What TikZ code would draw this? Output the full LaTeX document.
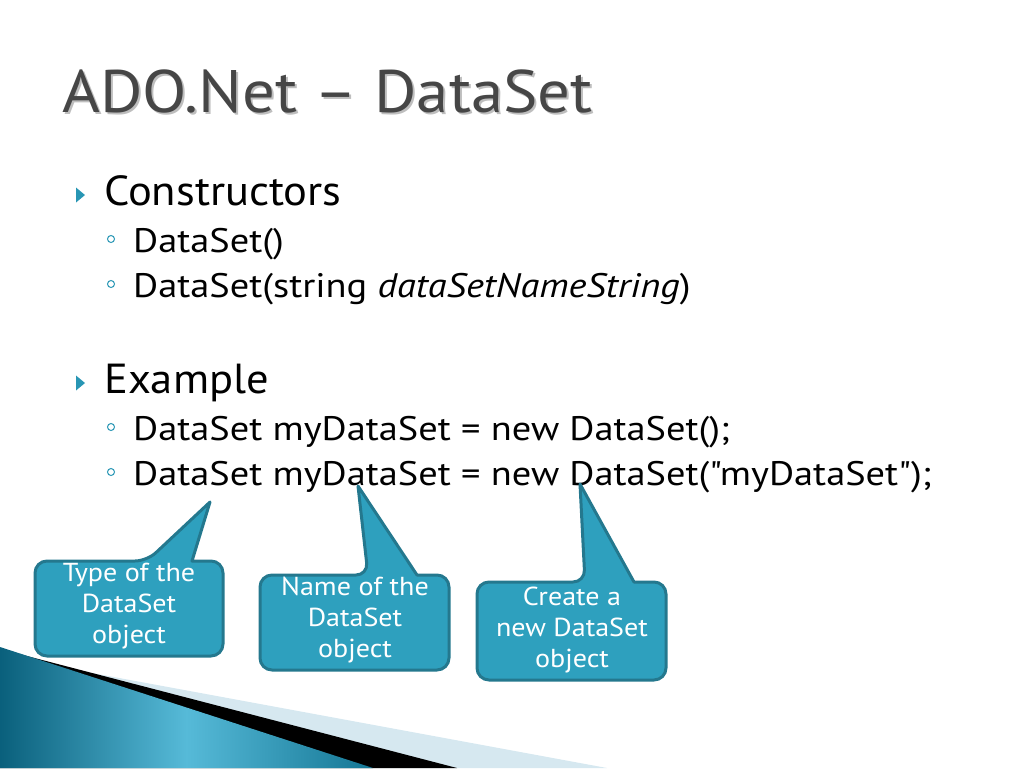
\documentclass[tikz,border=0pt]{standalone}
\usepackage{fontspec}
\setmainfont{PT Sans}[Ligatures=TeXOff]
\usetikzlibrary{positioning}
\definecolor{calloutfill}{RGB}{46,160,190}
\definecolor{calloutline}{RGB}{36,120,142}
\definecolor{bulletblue}{RGB}{40,150,180}
\definecolor{titlegray}{RGB}{70,70,70}
\definecolor{titleshade}{RGB}{190,190,190}
\definecolor{paleband}{RGB}{214,232,240}
\definecolor{tealdark}{RGB}{10,96,124}
\definecolor{tealmid}{RGB}{20,118,148}
\definecolor{teallight}{RGB}{86,186,216}

\begin{document}
\begin{tikzpicture}[x=1pt,y=-1pt,
    title/.style={anchor=base west,inner sep=0pt,text=titlegray,
                  font=\fontsize{60}{64}\selectfont\addfontfeatures{FakeStretch=1.08}},
    levelone/.style={anchor=base west,inner sep=0pt,
                     font=\fontsize{42}{46}\selectfont\addfontfeatures{FakeStretch=1.06}},
    leveltwo/.style={anchor=base west,inner sep=0pt,
                     font=\fontsize{34}{38}\selectfont\addfontfeatures{FakeStretch=1.13}},
    callout/.style={fill=calloutfill,draw=calloutline,line width=3pt,
                    rounded corners=12pt,line join=round},
    callouttext/.style={text=white,align=center,inner sep=0pt,
                        font=\fontsize{26}{31}\selectfont\addfontfeatures{FakeStretch=1.08}}]
\useasboundingbox (0,0) rectangle (1024,768);

% corner decoration
\fill[paleband] (0,656) -- (607,768) -- (0,768) -- cycle;
\fill[black] (0,649) -- (457,768) -- (0,768) -- cycle;
\shade[left color=tealdark,right color=tealmid,middle color=teallight]
    (0,647) -- (373,768) -- (0,768) -- cycle;

% title and text
\node[title,text=titleshade] (headingshadow) at (64,114) {ADO.Net – DataSet};
\node[title] (heading) at (62,112) {ADO.Net – DataSet};

\node[levelone] (ctors) at (104,205) {Constructors};
\node[leveltwo] (ctorA) at (133,252) {DataSet()};
\node[leveltwo] (ctorB) at (133,297) {DataSet(string \textit{dataSetNameString})};

\node[levelone] (example) at (104,393) {Example};
\node[leveltwo] (exA) at (133,440) {DataSet myDataSet = new DataSet();};
\node[leveltwo] (exB) at (133,485) {DataSet myDataSet = new DataSet("myDataSet");};

% bullets
\foreach \y in {195,383}
    \fill[bulletblue] (76,\y-7.5) -- (85,\y) -- (76,\y+7.5) -- cycle;
\foreach \y in {239,284,427,472}
    \draw[bulletblue,line width=1pt] (111,\y) circle (3.5);

% callouts
\coordinate (typetip) at (210,502);
\coordinate (nametip) at (358,486);
\coordinate (newtip)  at (580,484);

\draw[callout] (35,608) -- (35,561) -- (147,561) [sharp corners] -- (typetip)
    -- (192,561) [rounded corners=12pt] -- (223,561) -- (223,656) -- (35,656) -- cycle;
\draw[callout] (260,622) -- (260,575) -- (368,575) [sharp corners] -- (nametip)
    -- (417,575) [rounded corners=12pt] -- (449,575) -- (449,670) -- (260,670) -- cycle;
\draw[callout] (477,631) -- (477,582) -- (585,582) [sharp corners] -- (newtip)
    -- (634,582) [rounded corners=12pt] -- (666,582) -- (666,680) -- (477,680) -- cycle;

\node[callouttext] (typelabel) at (129,606) {Type of the\\DataSet\\object};
\node[callouttext] (namelabel) at (355,620) {Name of the\\DataSet\\object};
\node[callouttext] (newlabel)  at (572,630) {Create a\\new DataSet\\object};
\end{tikzpicture}
\end{document}
